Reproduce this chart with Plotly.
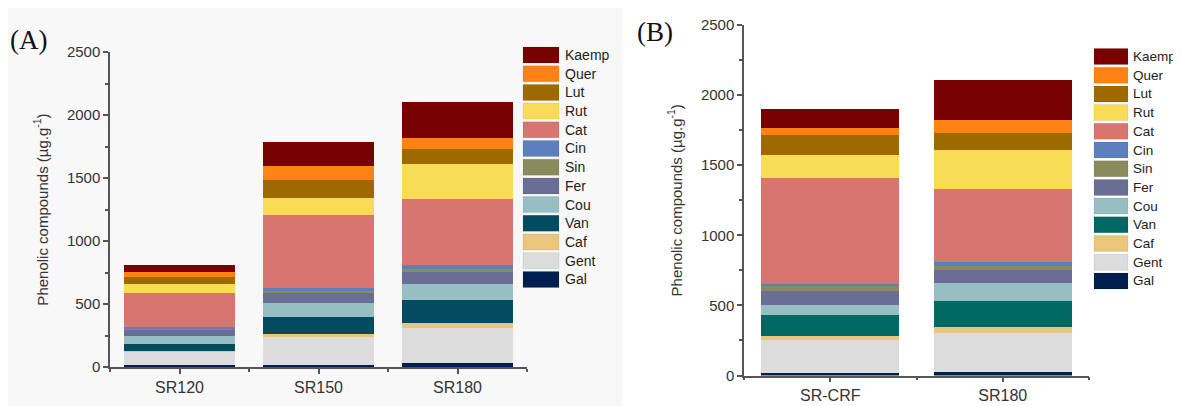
import plotly.graph_objects as go

# the page body has an 8px margin, so the figure is drawn 8px in from the top-left
OFF = 8
W, H = 1181 - OFF, 406 - OFF

samples = ["SR120", "SR150", "SR180", "SR-CRF"]
compounds = ["Gal", "Gent", "Caf", "Van", "Cou", "Fer", "Sin", "Cin",
             "Cat", "Rut", "Lut", "Quer", "Kaemp"]

# values per compound, in the order of `samples` (µg/g)
Gal = [16, 16, 28, 19]
Gent = [106, 220, 278, 237]
Caf = [8, 24, 40, 24]
Van = [53, 137, 188, 154]
Cou = [63, 111, 125, 71]
Fer = [48, 84, 96, 95]
Sin = [5, 8, 23, 36]
Cin = [19, 30, 31, 19]
Cat = [267, 579, 523, 756]
Rut = [74, 136, 277, 162]
Lut = [58, 142, 120, 142]
Quer = [35, 112, 91, 52]
Kaemp = [58, 186, 285, 131]

values = [Gal, Gent, Caf, Van, Cou, Fer, Sin, Cin, Cat, Rut, Lut, Quer, Kaemp]

colors_a = ["#001e4e", "#dcdcdc", "#eac67a", "#034b5e", "#96bec3", "#6a6e94",
            "#8a8a5c", "#5b80bd", "#d87571", "#f9dc56", "#9e6a00", "#ff8214", "#770000"]
colors_b = ["#001e4e", "#dcdcdc", "#eac67a", "#006862", "#96bec3", "#6a6e94",
            "#8a8a5c", "#5b80bd", "#d87571", "#f9dc56", "#9e6a00", "#ff8214", "#770000"]

panel_a = ["SR120", "SR150", "SR180"]
panel_b = ["SR-CRF", "SR180"]

FONT = "Arial, Liberation Sans, sans-serif"
AXC = "#555555"
TXT = "#333333"

fig = go.Figure()

for panel, cols, xa, ya in [(panel_a, colors_a, "x", "y"), (panel_b, colors_b, "x2", "y2")]:
    idx = [samples.index(s) for s in panel]
    for name, vals, c in zip(compounds, values, cols):
        fig.add_trace(go.Bar(
            x=list(range(len(panel))), y=[vals[i] for i in idx], name=name,
            marker=dict(color=c, line=dict(width=0)), width=0.8,
            xaxis=xa, yaxis=ya, showlegend=False,
            hovertemplate=name + ": %{y}<extra></extra>"))

def xaxis(domain, panel, anchor):
    return dict(domain=domain, anchor=anchor, range=[-0.5, len(panel) - 0.5],
                tickvals=list(range(len(panel))), ticktext=panel,
                showline=True, linecolor=AXC, linewidth=1.5,
                ticks="outside", ticklen=5, tickwidth=1.5, tickcolor=AXC,
                minor=dict(tick0=0.5, dtick=1, ticks="outside", ticklen=3,
                           tickwidth=1.5, tickcolor=AXC),
                showgrid=False, zeroline=False, automargin=False,
                tickfont=dict(family=FONT, size=16, color=TXT), fixedrange=True)

def yaxis(domain, anchor):
    return dict(domain=domain, anchor=anchor, range=[0, 2500], dtick=500,
                showline=True, linecolor=AXC, linewidth=1.5,
                ticks="outside", ticklen=5, tickwidth=1.5, tickcolor=AXC,
                minor=dict(dtick=250, ticks="outside", ticklen=3,
                           tickwidth=1.5, tickcolor=AXC),
                showgrid=False, zeroline=False, automargin=False,
                tickfont=dict(family=FONT, size=15, color=TXT),
                title=dict(text="Phenolic compounds (µg.g<sup>-1</sup>)",
                           font=dict(family=FONT, size=15, color=TXT)),
                fixedrange=True)

def px(x):
    return (x - OFF) / W

def py(y):
    return 1 - (y - OFF) / H

shapes = [dict(type="rect", xref="paper", yref="paper", x0=0, x1=px(622), y0=0, y1=1,
               fillcolor="#f8f8f8", line=dict(width=0), layer="below")]
annotations = []

# legends (top entry = last compound)
for x0, x1, tx, y_top, fs, cols in [(523, 559, 563, 55, 14, colors_a),
                                     (1094, 1128, 1131, 56.5, 13.5, colors_b)]:
    for k, (name, c) in enumerate(zip(compounds[::-1], cols[::-1])):
        yc = y_top + k * 18.7
        shapes.append(dict(type="rect", xref="paper", yref="paper",
                           x0=px(x0), x1=px(x1), y0=py(yc + 8), y1=py(yc - 8),
                           fillcolor=c, line=dict(width=0.5, color="rgba(0,0,0,0.15)")))
        annotations.append(dict(xref="paper", yref="paper", x=px(tx), y=py(yc),
                                text=name, showarrow=False, xanchor="left", yanchor="middle",
                                font=dict(family=FONT, size=fs, color="#222222")))

annotations.append(dict(xref="paper", yref="paper", x=px(8), y=py(40), text="(A)",
                        showarrow=False, xanchor="left", yanchor="middle",
                        font=dict(family="Liberation Serif, Times New Roman, serif", size=27, color="#111111")))
annotations.append(dict(xref="paper", yref="paper", x=px(635), y=py(32), text="(B)",
                        showarrow=False, xanchor="left", yanchor="middle",
                        font=dict(family="Liberation Serif, Times New Roman, serif", size=27, color="#111111")))

fig.update_layout(
    width=W, height=H, autosize=False,
    margin=dict(l=0, r=0, t=0, b=0, pad=0),
    paper_bgcolor="white", plot_bgcolor="rgba(0,0,0,0)",
    barmode="stack", bargap=0.2,
    xaxis=xaxis([px(110), px(527)], panel_a, "y"),
    yaxis=yaxis([py(367), py(52)], "x"),
    xaxis2=xaxis([px(744), px(1089)], panel_b, "y2"),
    yaxis2=yaxis([py(375.5), py(25)], "x2"),
    shapes=shapes, annotations=annotations,
    showlegend=False,
)

fig.write_html("out.html")
